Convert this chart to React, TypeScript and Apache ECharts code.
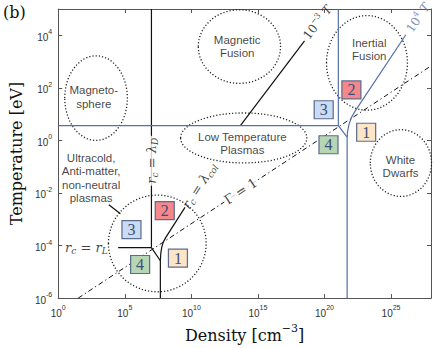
import React, { useEffect, useRef } from "react";
import * as echarts from "echarts";

// ---- axes (log10 units) ----
const xMin = 0;
const xMax = 28;
const xStep = 5;
const yMin = -6;
const yMax = 5;
const yStep = 2;

// ---- boundary lines: [log10 density, log10 temperature] ----
const lambdaDLine = [[7.0, 5], [7.0, -4.08]];
const rLLine = [[4.5, -4.08], [7.0, -4.08]];
const junctionLine = [[7.0, -4.08], [7.67, -4.58], [7.67, -6]];
const lambdaColLine = [[7.67, -4.58], [7.7, -4.31], [7.78, -4.05], [7.89, -3.87], [8.07, -3.7], [9.52, -2.55]];
const milliTLine = [[13.68, 0.566], [18.5, 3.79]];
const pointerLine = [[3.8, -2.45], [4.67, -2.79]];
const gammaLine = [[1.5, -6], [28, 2.833]];
const blueBoundary = [[0, 0.566], [21.04, 0.566], [21.04, 5]];
const blueCorner = [[21.04, 0.566], [21.7, 0.124], [21.7, -6]];
const tenKTLine = [[21.7, 0.124], [21.74, 0.367], [21.85, 0.629], [22.04, 0.891], [22.3, 1.116], [26.11, 4.02]];

// ---- regions: [centre x, centre y, half-width, half-height] in decades ----
const regionEllipses = [
  [2.84, 1.61, 2.35, 1.61],
  [13.61, 3.57, 3.09, 1.4],
  [23.19, 2.95, 3.04, 1.8],
  [13.93, 0.094, 4.74, 0.95],
  [25.74, -0.862, 2.3, 1.27],
  [7.44, -3.92, 3.67, 1.84],
];
const regionNames = [
  "Magneto-\nsphere",
  "Magnetic\nFusion",
  "Inertial\nFusion",
  "Low Temperature\nPlasmas",
  "White\nDwarfs",
  "Ultracold,\nAnti-matter,\nnon-neutral\nplasmas",
];
const regionNamePos = [
  [2.67, 1.66],
  [13.44, 3.57],
  [23.36, 3.46],
  [13.83, -0.116],
  [25.71, -0.989],
  [2.47, -1.43],
];

// ---- numbered boxes ----
const boxNumbers = ["1", "2", "3", "4"];
const boxFills = ["#fde5c7", "#f4888b", "#c9dcf6", "#b7d6b6"];
const upperBoxes = [[23.13, 0.311], [22.02, 1.92], [19.94, 1.165], [20.3, -0.165]];
const lowerBoxes = [[8.99, -4.48], [8.0, -2.674], [5.5, -3.397], [6.15, -4.72]];

// ---- curve labels ----
const curveLabelText = [
  "{i|r}{s|c}{n| = }{i|r}{s|L}",
  "{i|r}{s|c}{n| = }{i|λ}{s|D}",
  "{i|r}{s|c}{n| = }{i|λ}{s|col}",
  "{n|Γ = 1}",
  "{n|10}{p|−3}{n| }{i|T}",
  "{n|10}{p|4}{n| }{i|T}",
];
const curveLabelPos = [
  [2.11, -4.08],
  [7.0, -0.775],
  [10.6, -1.72],
  [13.7, -1.93],
  [19.48, 4.49],
  [27.04, 4.67],
];
const curveLabelAngle = [0, 90, 57, 33.5, 53, 56];

const BLUE = "#5670a8";
const AXIS = "#555";
const SERIF = "DejaVu Serif";
const SANS = "Liberation Sans";

function lineSeries(data: number[][], color: string, extra: any = {}) {
  return {
    type: "line",
    data,
    symbol: "none",
    silent: true,
    clip: false,
    z: 2,
    lineStyle: { color, width: 1.2, ...extra },
  };
}

function mathRich(color: string, size: number) {
  return {
    i: { fontFamily: SERIF, fontStyle: "italic", fontSize: size, lineHeight: 16, color },
    n: { fontFamily: SERIF, fontSize: size, lineHeight: 16, color },
    s: { fontFamily: SERIF, fontStyle: "italic", fontSize: 9, lineHeight: 7, verticalAlign: "bottom", color },
    p: { fontFamily: SERIF, fontSize: 8, lineHeight: 7, verticalAlign: "top", color },
  };
}

const tickRich = {
  b: { fontFamily: SANS, fontSize: 10, color: "#333", lineHeight: 14, verticalAlign: "bottom" },
  s: { fontFamily: SANS, fontSize: 7, color: "#333", lineHeight: 6, verticalAlign: "top" },
};

function makeOption() {
  const boxSeries = (pts: number[][]) => ({
    type: "scatter",
    silent: true,
    z: 6,
    symbol: "rect",
    symbolSize: [19, 18],
    data: pts.map((p, i) => ({
      value: p,
      name: boxNumbers[i],
      itemStyle: { color: boxFills[i], borderColor: "#5d6c8e", borderWidth: 1.2, opacity: 1 },
    })),
    label: {
      show: true,
      position: "inside",
      formatter: (d: any) => d.name,
      fontFamily: "Liberation Serif",
      fontSize: 16,
      color: "#3f4c78",
    },
  });

  return {
    animation: false,
    backgroundColor: "#fff",
    grid: { left: 52, right: 5, top: 9, bottom: 45, containLabel: false },
    graphic: [
      {
        type: "text",
        left: 3,
        top: 4,
        style: { text: "(b)", font: `16px "${SERIF}"`, fill: "#111" },
      },
    ],
    xAxis: [
      {
        type: "value",
        min: xMin,
        max: xMax,
        interval: xStep,
        position: "bottom",
        axisLine: { show: true, onZero: false, lineStyle: { color: AXIS, width: 1 } },
        axisTick: { show: true, inside: true, length: 4, lineStyle: { color: AXIS } },
        splitLine: { show: false },
        axisLabel: {
          margin: 6,
          formatter: (v: number) => (v % xStep === 0 ? `{b|10}{s|${v}}` : ""),
          rich: tickRich,
        },
        name: "{n|Density [cm}{p|−3}{n|]}",
        nameLocation: "middle",
        nameGap: 18,
        nameTextStyle: {
          rich: {
            n: { fontFamily: SERIF, fontSize: 16, color: "#111", lineHeight: 20, verticalAlign: "bottom" },
            p: { fontFamily: SERIF, fontSize: 11, color: "#111", lineHeight: 10, verticalAlign: "top" },
          },
        },
      },
      {
        type: "value",
        min: xMin,
        max: xMax,
        interval: xStep,
        position: "top",
        axisLine: { show: true, onZero: false, lineStyle: { color: AXIS, width: 1 } },
        axisTick: { show: true, inside: true, length: 4, lineStyle: { color: AXIS } },
        splitLine: { show: false },
        axisLabel: { show: false },
      },
    ],
    yAxis: [
      {
        type: "value",
        min: yMin,
        max: yMax,
        interval: yStep,
        position: "left",
        axisLine: { show: true, onZero: false, lineStyle: { color: AXIS, width: 1 } },
        axisTick: { show: true, inside: true, length: 4, lineStyle: { color: AXIS } },
        splitLine: { show: false },
        axisLabel: {
          margin: 6,
          formatter: (v: number) => (v % yStep === 0 ? `{b|10}{s|${v}}` : ""),
          rich: tickRich,
        },
        name: "Temperature [eV]",
        nameLocation: "middle",
        nameGap: 27,
        nameTextStyle: { fontFamily: SERIF, fontSize: 16, color: "#111" },
      },
      {
        type: "value",
        min: yMin,
        max: yMax,
        interval: yStep,
        position: "right",
        axisLine: { show: true, onZero: false, lineStyle: { color: AXIS, width: 1 } },
        axisTick: { show: true, inside: true, length: 4, lineStyle: { color: AXIS } },
        splitLine: { show: false },
        axisLabel: { show: false },
      },
    ],
    series: [
      {
        type: "custom",
        silent: true,
        clip: false,
        z: 1,
        data: regionEllipses,
        renderItem: (params: any, api: any) => {
          const c = api.coord([api.value(0), api.value(1)]);
          const e = api.coord([api.value(0) + api.value(2), api.value(1) + api.value(3)]);
          return {
            type: "ellipse",
            shape: { cx: c[0], cy: c[1], rx: Math.abs(e[0] - c[0]), ry: Math.abs(e[1] - c[1]) },
            style: { fill: "none", stroke: "#222", lineWidth: 1.3, lineDash: [1.2, 2] },
          };
        },
      },
      lineSeries(gammaLine, "#111", { width: 1, type: [5, 3, 1.2, 3] }),
      lineSeries(lambdaDLine, "#111"),
      lineSeries(rLLine, "#111"),
      lineSeries(junctionLine, "#111"),
      lineSeries(lambdaColLine, "#111"),
      lineSeries(milliTLine, "#111"),
      lineSeries(pointerLine, "#111"),
      lineSeries(blueBoundary, BLUE),
      lineSeries(blueCorner, BLUE),
      lineSeries(tenKTLine, BLUE),
      {
        type: "scatter",
        silent: true,
        z: 4,
        symbolSize: 0,
        data: regionNamePos.map((p, i) => ({ value: p, name: regionNames[i] })),
        label: {
          show: true,
          position: "inside",
          formatter: (d: any) => d.name,
          fontFamily: SANS,
          fontSize: 11.5,
          lineHeight: 13.6,
          color: "#111",
          align: "center",
        },
      },
      {
        type: "scatter",
        silent: true,
        z: 5,
        symbolSize: 0,
        data: curveLabelPos.map((p, i) => {
          const color = i === 5 ? BLUE : "#111";
          const size = i >= 4 ? 12 : 13;
          const withBg = i === 1 || i === 3;
          return {
            value: p,
            label: {
              show: true,
              position: "inside",
              rotate: curveLabelAngle[i],
              formatter: curveLabelText[i],
              rich: mathRich(color, size),
              backgroundColor: withBg ? "#fff" : "transparent",
              padding: withBg ? [0, 2] : 0,
            },
          };
        }),
      },
      boxSeries(upperBoxes),
      boxSeries(lowerBoxes),
    ],
  };
}

export default function App() {
  const ref = useRef<HTMLDivElement>(null);
  useEffect(() => {
    if (!ref.current) return;
    const chart = echarts.init(ref.current, null, { renderer: "svg" });
    chart.setOption(makeOption() as any);
    return () => chart.dispose();
  }, []);
  return (
    <div
      ref={ref}
      style={{ position: "fixed", left: 0, top: 0, width: 436, height: 348, background: "#fff" }}
    />
  );
}
